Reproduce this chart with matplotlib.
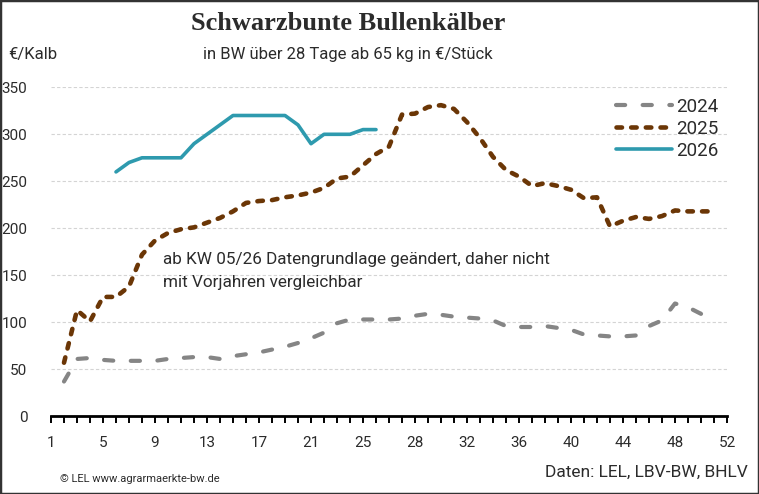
# Schwarzbunte Bullenkälber - Preisentwicklung 2024-2026

import numpy as np
import matplotlib.pyplot as plt
from matplotlib.patches import Rectangle

nan = np.nan

# Kategorien der x-Achse (53 Positionen, beschriftet wird jede vierte)
positions = np.arange(53)
tick_pos = list(range(0, 53, 4))
tick_labels = ['1', '5', '9', '13', '17', '21', '25', '28', '32', '36', '40', '44', '48', '52']

# Preise in €/Stück je Position
v2024 = [nan, 37, 61, 62, 60, 59, 59, 59, 59, 61, 62, 63, 63, 61, 64, 66, 68, 71, 74, 78,
         83, 89, 99, 103, 103, 103, 103, 104, 107, 109, 108, 106, 105, 104, 102, 96, 95, 95,
         96, 94, 92, 87, 86, 85, 85, 86, 96, 102, 120, 116, 109, 114, nan]
v2025 = [nan, 57, 113, 101, 127, 127, 138, 172, 187, 195, 199, 201, 206, 211, 218, 227, 229,
         230, 233, 235, 238, 243, 253, 255, 267, 279, 287, 321, 322, 329, 331, 327, 313, 296,
         276, 262, 255, 245, 248, 245, 241, 232, 233, 202, 208, 212, 210, 213, 219, 218, 218,
         218, nan]
v2026 = [nan, nan, nan, nan, nan, 260, 270, 275, 275, 275, 275, 290, 300, 310, 320, 320, 320,
         320, 320, 310, 290, 300, 300, 300, 305, 305] + [nan] * 27

c2024 = '#858585'
c2025 = '#6b3606'
c2026 = '#2e9aae'
txt = '#2b2b2b'

fig = plt.figure(figsize=(7.59, 4.94), dpi=100)
ax = fig.add_axes([51 / 759, 1 - 416.3 / 494, 676 / 759, 329 / 494])

ax.plot(positions, v2024, color=c2024, lw=3.0, dashes=(2.2, 4.2),
        dash_capstyle='round', label='2024')
ax.plot(positions, v2025, color=c2025, lw=3.3, dashes=(1.2, 2.0),
        dash_capstyle='round', label='2025')
ax.plot(positions, v2026, color=c2026, lw=2.6, solid_capstyle='round',
        solid_joinstyle='round', label='2026')

ax.set_xlim(0, 52)
ax.set_ylim(0, 350)
ax.set_yticks(range(0, 351, 50))
ax.set_xticks(tick_pos)
ax.set_xticklabels(tick_labels)
ax.set_xticks(positions, minor=True)

for s in ['left', 'right', 'top']:
    ax.spines[s].set_visible(False)
ax.spines['bottom'].set_linewidth(2)
ax.spines['bottom'].set_color('black')

ax.grid(axis='y', color='#d4d4d4', lw=0.8, ls=(0, (3, 2)))
ax.set_axisbelow(True)
ax.tick_params(axis='x', which='both', length=5, width=1.4, color='black', direction='out',
               labelsize=11, labelcolor=txt, pad=9)
ax.tick_params(axis='y', length=0, labelsize=11, labelcolor=txt, pad=17)
for lab in ax.get_xticklabels() + ax.get_yticklabels():
    lab.set_family('Roboto')

leg = ax.legend(loc='upper right', bbox_to_anchor=(1.012, 1.02), frameon=False,
                prop={'family': 'Roboto', 'size': 13.5}, handlelength=3.0,
                handletextpad=0.2, labelspacing=0.22)
for t in leg.get_texts():
    t.set_color(txt)

ax.text(8.65, 175, 'ab KW 05/26 Datengrundlage geändert, daher nicht\nmit Vorjahren vergleichbar',
        family='Roboto', fontsize=12.3, color=txt, va='top', ha='left', linespacing=1.7)

fig.text(348 / 759, 1 - 24 / 494, 'Schwarzbunte Bullenkälber', family='Liberation Serif',
         weight='bold', fontsize=19, color=txt, ha='center', va='center')
fig.text(348 / 759, 1 - 55 / 494, 'in BW über 28 Tage ab 65 kg in €/Stück',
         family='Roboto', fontsize=12, color=txt, ha='center', va='center')
fig.text(8 / 759, 1 - 55 / 494, '€/Kalb', family='Roboto',
         fontsize=12, color=txt, ha='left', va='center')
fig.text(748 / 759, 1 - 472 / 494, 'Daten: LEL, LBV-BW, BHLV', family='Roboto',
         fontsize=12.5, color=txt, ha='right', va='center')
fig.text(60 / 759, 1 - 479 / 494, '© LEL www.agrarmaerkte-bw.de', family='Roboto',
         fontsize=8, color=txt, ha='left', va='center')

fig.patches.append(Rectangle((0, 0), 1, 1, transform=fig.transFigure, fill=False,
                             edgecolor='#333333', lw=2.5))

fig.savefig('out.png', dpi=100)
